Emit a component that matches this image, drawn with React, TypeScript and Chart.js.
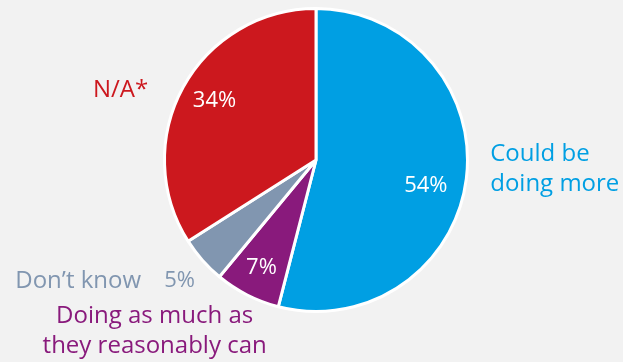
import React, { useEffect, useRef } from "react";
import { Chart, registerables } from "chart.js";

Chart.register(...registerables);

const categories = ["Could be doing more", "Doing as much as they reasonably can", "Don’t know", "N/A*"];
const values = [54, 7, 5, 34];
const percentLabels = ["54%", "7%", "5%", "34%"];
const colors = ["#009fe3", "#891a7c", "#8196b0", "#cc181e"];

const FONT = "'Open Sans', 'Noto Sans', sans-serif";

const labelPlugin = {
  id: "pieLabels",
  beforeDraw(chart: any) {
    const { ctx, width, height } = chart;
    ctx.save();
    ctx.fillStyle = "#f2f2f2";
    ctx.fillRect(0, 0, width, height);
    ctx.restore();
  },
  afterDraw(chart: any) {
    const { ctx } = chart;
    const arc = chart.getDatasetMeta(0).data[0];
    const cx = arc.x;
    const cy = arc.y;
    const r = arc.outerRadius;
    const at = (fx: number, fy: number) => [cx + fx * r, cy + fy * r];
    ctx.save();
    ctx.textAlign = "center";
    ctx.textBaseline = "middle";
    // inside percent labels
    ctx.font = `22px ${FONT}`;
    ctx.fillStyle = "#ffffff";
    const inside: Record<number, [number, number]> = { 0: [0.725, 0.17], 1: [-0.36, 0.71], 3: [-0.67, -0.39] };
    Object.keys(inside).forEach((k) => {
      const i = Number(k);
      const [x, y] = at(inside[i][0], inside[i][1]);
      ctx.fillText(percentLabels[i], x, y);
    });
    // outside labels
    ctx.font = `24px ${FONT}`;
    // Could be doing more
    ctx.fillStyle = colors[0];
    ctx.textAlign = "left";
    let [x, y] = at(1.15, -0.04);
    ctx.fillText("Could be", x, y);
    ctx.fillText("doing more", x, y + 30);
    // N/A*
    ctx.fillStyle = colors[3];
    ctx.textAlign = "center";
    [x, y] = at(-1.29, -0.46);
    ctx.fillText(categories[3], x, y);
    // Don't know + 5%
    ctx.fillStyle = colors[2];
    [x, y] = at(-1.57, 0.8);
    ctx.fillText(categories[2], x, y);
    ctx.font = `22px ${FONT}`;
    [x, y] = at(-0.9, 0.8);
    ctx.fillText(percentLabels[2], x, y);
    // Doing as much as...
    ctx.font = `24px ${FONT}`;
    ctx.fillStyle = colors[1];
    [x, y] = at(-1.065, 1.03);
    ctx.fillText("Doing as much as", x, y);
    ctx.fillText("they reasonably can", x, y + 30);
    ctx.restore();
  },
};

export default function App() {
  const ref = useRef<HTMLCanvasElement>(null);
  useEffect(() => {
    document.body.style.margin = "0";
    const chart = new Chart(ref.current!, {
      type: "pie",
      data: {
        labels: categories,
        datasets: [
          {
            data: values,
            backgroundColor: colors,
            borderColor: "#ffffff",
            borderWidth: 3,
          },
        ],
      },
      options: {
        responsive: false,
        animation: false,
        layout: { padding: { top: 7, bottom: 49, left: 163, right: 154 } },
        plugins: { legend: { display: false }, tooltip: { enabled: false } },
      },
      plugins: [labelPlugin],
    });
    return () => chart.destroy();
  }, []);
  return (
    <div style={{ width: 623, height: 362, background: "#f2f2f2" }}>
      <canvas ref={ref} width={623} height={362} style={{ display: "block" }} />
    </div>
  );
}
